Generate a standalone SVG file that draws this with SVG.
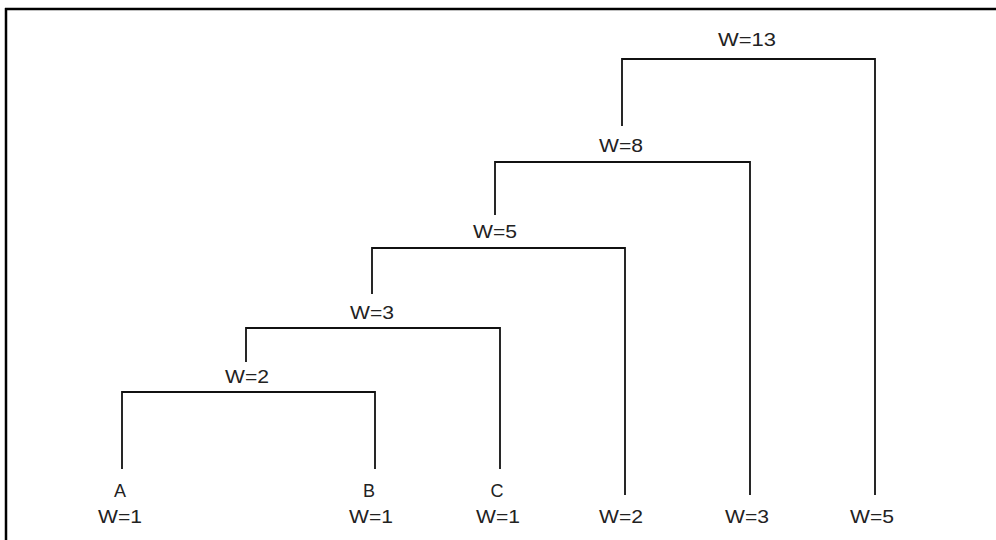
<svg xmlns="http://www.w3.org/2000/svg" width="996" height="540" viewBox="0 0 996 540">
<style>
.c{fill:none;stroke:#111;stroke-width:1.8;stroke-linecap:butt}
text{font-family:"Liberation Sans",Arial,sans-serif;font-size:18px;fill:#222;text-anchor:middle}
</style>
<rect width="996" height="540" fill="#fff"/>
<g id="frame">
<line x1="5" y1="9" x2="996" y2="9" stroke="#000" stroke-width="2.5"/>
<line x1="6" y1="8" x2="6" y2="540" stroke="#000" stroke-width="2.5"/>
</g>
<g id="connectors">
<path class="c" d="M622,126V59H875V495"/>
<path class="c" d="M495,215V162H750V495"/>
<path class="c" d="M372,294V248H625V495"/>
<path class="c" d="M246,362V328H500V469"/>
<path class="c" d="M122,469V392H375V469"/>
</g>
<g id="n13"><text x="747" y="46" textLength="58" lengthAdjust="spacingAndGlyphs">W=13</text></g>
<g id="n8"><text x="621" y="152" textLength="44" lengthAdjust="spacingAndGlyphs">W=8</text></g>
<g id="n5"><text x="495" y="238" textLength="44" lengthAdjust="spacingAndGlyphs">W=5</text></g>
<g id="n3"><text x="372" y="319" textLength="44" lengthAdjust="spacingAndGlyphs">W=3</text></g>
<g id="n2"><text x="247" y="383" textLength="44" lengthAdjust="spacingAndGlyphs">W=2</text></g>
<g id="A"><text x="120" y="497">A</text><text x="120" y="523" textLength="44" lengthAdjust="spacingAndGlyphs">W=1</text></g>
<g id="B"><text x="369" y="497">B</text><text x="371" y="523" textLength="44" lengthAdjust="spacingAndGlyphs">W=1</text></g>
<g id="C"><text x="497" y="497">C</text><text x="498" y="523" textLength="44" lengthAdjust="spacingAndGlyphs">W=1</text></g>
<g id="L2"><text x="621" y="523" textLength="44" lengthAdjust="spacingAndGlyphs">W=2</text></g>
<g id="L3"><text x="747" y="523" textLength="44" lengthAdjust="spacingAndGlyphs">W=3</text></g>
<g id="L5"><text x="872" y="523" textLength="44" lengthAdjust="spacingAndGlyphs">W=5</text></g>
</svg>
